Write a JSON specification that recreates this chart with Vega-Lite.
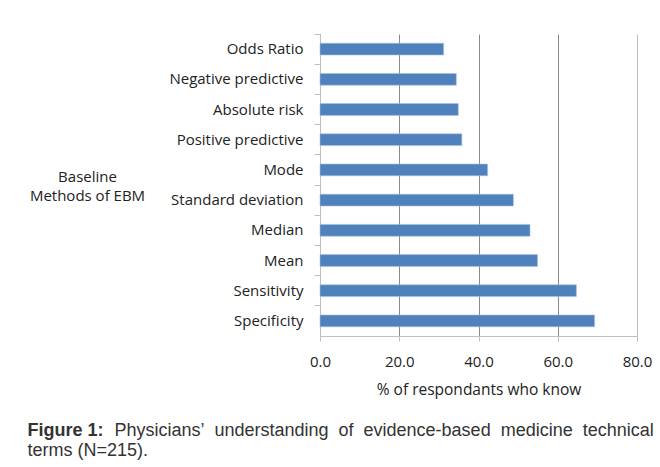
{
  "$schema": "https://vega.github.io/schema/vega-lite/v6.json",
  "width": 317,
  "height": 302,
  "autosize": {"type": "none"},
  "padding": {"left": 320, "top": 34, "right": 23, "bottom": 131},
  "background": "white",
  "config": {"view": {"stroke": null}, "font": "Open Sans"},
  "title": {
    "text": "Figure 1:",
    "subtitle": ["\u200d\u2003\u2003\u2003\u2003\u00a0\u00a0\u00a0Physicians\u2019\u00a0 understanding\u00a0 of\u00a0 evidence-based\u00a0 medicine\u00a0 technical", "terms (N=215)."],
    "orient": "bottom",
    "anchor": "start",
    "frame": "bounds",
    "dx": -2,
    "font": "Liberation Sans",
    "fontSize": 18,
    "fontWeight": "bold",
    "color": "#333333",
    "lineHeight": 20,
    "subtitleFont": "Liberation Sans",
    "subtitleFontSize": 18,
    "subtitleFontWeight": "normal",
    "subtitleColor": "#333333",
    "subtitleLineHeight": 20,
    "subtitlePadding": -18,
    "offset": 24
  },
  "data": {
    "values": [
      {"term": "Odds Ratio", "pct": 31.2},
      {"term": "Negative predictive", "pct": 34.4},
      {"term": "Absolute risk", "pct": 34.9},
      {"term": "Positive predictive", "pct": 35.8},
      {"term": "Mode", "pct": 42.3},
      {"term": "Standard deviation", "pct": 48.8},
      {"term": "Median", "pct": 53.0},
      {"term": "Mean", "pct": 54.9},
      {"term": "Sensitivity", "pct": 64.7},
      {"term": "Specificity", "pct": 69.3}
    ]
  },
  "mark": {"type": "bar", "color": "#4f81bd", "height": {"band": 0.39}, "stroke": "#a9c0e0", "strokeWidth": 0.6},
  "encoding": {
    "y": {
      "field": "term",
      "type": "nominal",
      "sort": null,
      "scale": {"paddingInner": 0, "paddingOuter": 0},
      "axis": {
        "title": ["Baseline", "Methods of EBM"],
        "titleAngle": 0,
        "titleAlign": "center",
        "titleBaseline": "alphabetic",
        "titleX": -233,
        "titleY": 147,
        "titleFont": "Open Sans",
        "titleFontSize": 15,
        "titleFontWeight": "normal",
        "titleColor": "#222222",
        "titleLineHeight": 19,
        "labelFontSize": 15,
        "labelColor": "#222222",
        "labelPadding": 11,
        "tickSize": 6,
        "tickColor": "#bfbfbf",
        "domainColor": "#bfbfbf",
        "bandPosition": 0,
        "tickExtra": true,
        "grid": false
      }
    },
    "x": {
      "field": "pct",
      "type": "quantitative",
      "scale": {"domain": [0, 80], "nice": false},
      "axis": {
        "title": "% of respondants who know",
        "titleFontSize": 15.5,
        "titleFontWeight": "normal",
        "titleColor": "#222222",
        "titlePadding": 13,
        "values": [0, 20, 40, 60, 80],
        "format": ".1f",
        "labelFontSize": 15,
        "labelColor": "#222222",
        "labelPadding": 13,
        "labelFlush": false,
        "tickSize": 5,
        "tickColor": "#bfbfbf",
        "domainColor": "#bfbfbf",
        "gridColor": {"condition": {"test": "datum.value === 80", "value": "#c0c0c0"}, "value": "#8a8a8a"},
        "gridWidth": 1
      }
    }
  }
}
